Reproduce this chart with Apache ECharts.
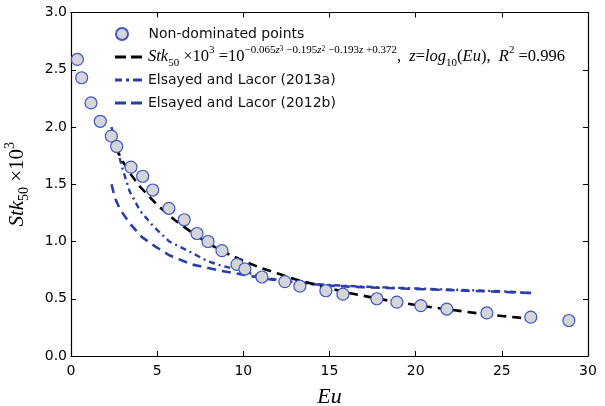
<!DOCTYPE html>
<html><head><meta charset="utf-8">
<script src="https://cdn.jsdelivr.net/npm/echarts@6/dist/echarts.min.js"></script>
<style>html,body{margin:0;padding:0;background:#fff}#c{width:605px;height:406px}</style>
</head><body><div id="c"></div>
<script>
// Non-dominated points
const pointsEu  = [0.37,0.62,1.16,1.70,2.34,2.65,3.48,4.16,4.74,5.68,6.57,7.31,7.95,8.76,9.63,10.09,11.08,12.41,13.28,14.79,15.78,17.75,18.91,20.30,21.81,24.13,26.68,28.89];
const pointsStk = [2.59,2.43,2.21,2.05,1.92,1.83,1.65,1.57,1.45,1.29,1.19,1.07,1.00,0.92,0.80,0.76,0.69,0.65,0.61,0.57,0.54,0.50,0.47,0.44,0.41,0.376,0.34,0.31];
// Fitted correlation (black dashed)
const fitEu  = [2.6,3,3.5,4,5,6,7,8,9,10,11,12,13,14,15,16,17,18,19,20,21,22,23,24,25,26,26.7];
const fitStk = [1.82,1.70,1.58,1.48,1.32,1.19,1.08,0.98,0.90,0.83,0.77,0.72,0.67,0.63,0.59,0.555,0.525,0.495,0.47,0.445,0.425,0.405,0.385,0.365,0.35,0.335,0.325];
// Elsayed and Lacor (2013a)
const e13Eu  = [2.35,2.6,3.0,3.4,4.0,4.8,5.7,6.9,7.9,8.7,10,11.3,13,15,17,20,23,25,26.7];
const e13Stk = [2.0,1.85,1.63,1.44,1.27,1.13,1.0,0.91,0.83,0.79,0.74,0.68,0.645,0.62,0.605,0.59,0.575,0.565,0.55];
// Elsayed and Lacor (2012b)
const e12Eu  = [2.35,2.55,2.85,3.4,4.1,4.9,5.7,7,8.5,10,11.5,13,15,17,20,23,25,26.7];
const e12Stk = [1.50,1.38,1.28,1.16,1.04,0.955,0.88,0.80,0.75,0.71,0.67,0.64,0.615,0.60,0.585,0.57,0.56,0.55];
const xTicks = [0,5,10,15,20,25,30];
const yTicks = [0.0,0.5,1.0,1.5,2.0,2.5,3.0];

const names = ['Non-dominated points','fit','Elsayed and Lacor (2013a)','Elsayed and Lacor (2012b)'];
const zip = (a,b)=>a.map((v,i)=>[v,b[i]]);
const BLUE = '#2b3ea8';
const serif = 'Liberation Serif';
const rich = {
  i:{fontFamily:serif,fontStyle:'italic',fontSize:16.5,lineHeight:24,verticalAlign:'middle',color:'#000'},
  r:{fontFamily:serif,fontSize:16.5,lineHeight:24,verticalAlign:'middle',color:'#000'},
  s:{fontFamily:serif,fontSize:11,lineHeight:17,verticalAlign:'bottom',color:'#000'},
  p:{fontFamily:serif,fontSize:11,lineHeight:15,verticalAlign:'top',color:'#000'},
  pi:{fontFamily:serif,fontStyle:'italic',fontSize:11,lineHeight:15,verticalAlign:'top',color:'#000'},
  pp:{fontFamily:serif,fontSize:7.5,lineHeight:9,verticalAlign:'top',color:'#000'}
};
const fitLabel = '{i|Stk}{s|50}{r| ×10}{p|3}{r| =10}{p|−0.065}{pi|z}{pp|3}{p| −0.195}{pi|z}{pp|2}{p| −0.193}{pi|z}{p| +0.372}{r|,  }{i|z}{r|=}{i|log}{s|10}{r|(}{i|Eu}{r|),  }{i|R}{p|2}{r| =0.996}';

const icons = {
  fit:'path://M0,0H11V3H0Z M16,0H27V3H16Z',
  e13:'path://M0,0H7V3H0Z M11,0H14V3H11Z M18,0H27V3H18Z',
  e12:'path://M0,0H11V3H0Z M16,0H27V3H16Z'
};
function leg(name, top, icon){
  const item = icon ? {name:name, icon:icon} : {name:name};
  return {
    data:[item], orient:'vertical', left:110, top:top,
    itemWidth:27, itemHeight: icon ? 3 : 12, itemGap:0,
    textStyle:{fontFamily:'DejaVu Sans',fontSize:14,color:'#111',padding: icon ? [0,0,0,1] : [0,0,0,8],rich:rich},
    formatter: n => n==='fit' ? fitLabel : n,
    selectedMode:false
  };
}
const axisCommon = {
  type:'value', axisLine:{show:true,onZero:false,lineStyle:{color:'#000',width:1.2}},
  axisTick:{show:true,inside:true,length:5,lineStyle:{color:'#000'}},
  splitLine:{show:false}
};
const chart = echarts.init(document.getElementById('c'));
chart.setOption({
  animation:false,
  backgroundColor:'#fff',
  grid:{left:71,right:17,top:12.5,bottom:50,containLabel:false,outerBoundsMode:'none'},
  legend:[leg(names[0],22),leg(names[1],40,icons.fit),leg(names[2],68,icons.e13),leg(names[3],91,icons.e12)],
  xAxis:[
    Object.assign({},axisCommon,{min:xTicks[0],max:xTicks[xTicks.length-1],interval:5,position:'bottom',
      axisLabel:{color:'#000',fontFamily:'DejaVu Sans',fontSize:14,margin:8},
      name:'Eu',nameLocation:'middle',nameGap:30,
      nameTextStyle:{fontFamily:serif,fontStyle:'italic',fontSize:22,color:'#000'}}),
    Object.assign({},axisCommon,{min:xTicks[0],max:xTicks[xTicks.length-1],interval:5,position:'top',axisLabel:{show:false}})
  ],
  yAxis:[
    Object.assign({},axisCommon,{min:yTicks[0],max:yTicks[yTicks.length-1],interval:0.5,position:'left',
      axisLabel:{color:'#000',fontFamily:'DejaVu Sans',fontSize:14,margin:4,formatter:v=>v.toFixed(1)},
      name:'{i|Stk}{s|50}{r| ×10}{p|3}',nameLocation:'middle',nameGap:40,nameRotate:90,
      nameTextStyle:{rich:{
        i:{fontFamily:serif,fontStyle:'italic',fontSize:21,lineHeight:28,verticalAlign:'middle',color:'#000'},
        r:{fontFamily:serif,fontSize:21,lineHeight:28,verticalAlign:'middle',color:'#000'},
        s:{fontFamily:serif,fontSize:14,lineHeight:20,verticalAlign:'bottom',color:'#000'},
        p:{fontFamily:serif,fontSize:14,lineHeight:18,verticalAlign:'top',color:'#000'}
      }}}),
    Object.assign({},axisCommon,{min:yTicks[0],max:yTicks[yTicks.length-1],interval:0.5,position:'right',axisLabel:{show:false}})
  ],
  series:[
    {name:names[0],type:'scatter',data:zip(pointsEu,pointsStk),symbol:'circle',symbolSize:12,z:5,
      itemStyle:{color:'#d5d5d9',borderColor:'#3f57c2',borderWidth:1.2,opacity:1}},
    {name:names[1],type:'line',data:zip(fitEu,fitStk),symbol:'none',smooth:false,z:4,
      itemStyle:{color:'#000'},lineStyle:{color:'#000',width:2.6,type:[9,6]}},
    {name:names[2],type:'line',data:zip(e13Eu,e13Stk),symbol:'none',z:3,
      itemStyle:{color:BLUE},lineStyle:{color:BLUE,width:2.4,type:[6,4,2,4]}},
    {name:names[3],type:'line',data:zip(e12Eu,e12Stk),symbol:'none',z:3,
      itemStyle:{color:BLUE},lineStyle:{color:BLUE,width:2.6,type:[9,6]}}
  ]
});
</script></body></html>
